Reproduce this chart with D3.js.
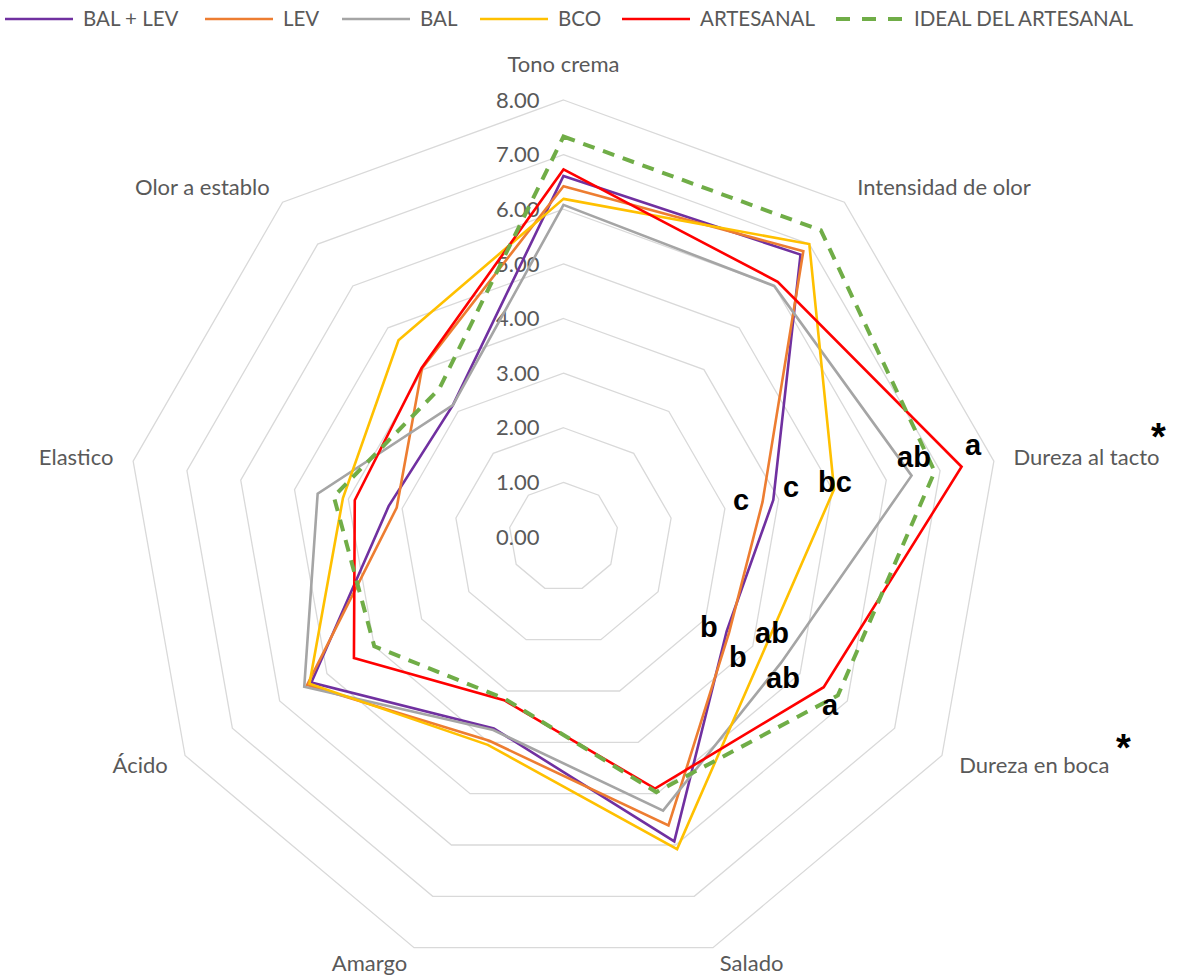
<!DOCTYPE html>
<html>
<head>
<meta charset="utf-8">
<script src="https://cdn.jsdelivr.net/npm/d3@7"></script>
<style>
  body { margin: 0; background: #fff; }
  text { font-family: Lato, "Open Sans", sans-serif; fill: #595959; }
</style>
</head>
<body>
<script>

// categories, clockwise from the top
var categories = ["Tono crema", "Intensidad de olor", "Dureza al tacto", "Dureza en boca",
                  "Salado", "Amargo", "Ácido", "Elastico", "Olor a establo"];

// series values
var balLev    = [6.61, 6.75, 3.90, 3.45, 5.93, 3.73, 5.33, 3.25, 3.15];
var lev       = [6.42, 6.83, 3.70, 3.50, 5.62, 3.97, 5.42, 3.10, 4.03];
var bal       = [6.08, 6.00, 6.47, 4.60, 5.33, 3.76, 5.48, 4.57, 3.15];
var bco       = [6.19, 7.00, 5.03, 4.22, 6.08, 4.05, 5.37, 4.10, 4.70];
var artesanal = [6.73, 6.10, 7.40, 5.50, 4.90, 3.18, 4.43, 3.88, 4.04];
var ideal     = [7.33, 7.33, 6.90, 5.80, 4.97, 3.15, 4.00, 4.27, 3.54];

var seriesNames = ["BAL + LEV", "LEV", "BAL", "BCO", "ARTESANAL", "IDEAL DEL ARTESANAL"];
var seriesValues = [balLev, lev, bal, bco, artesanal, ideal];

// tick labels of the radial axis
var ticks = [0, 1, 2, 3, 4, 5, 6, 7, 8];

// significance letters
var letterTacto = ["c", "c", "bc", "ab", "a"];
var letterBoca = ["b", "b", "ab", "ab", "a"];

// ---- layout ----
var width = 1178, height = 977;
var cx = 563.5, cy = 537, radius = 437;
var colors = ["#7030A0", "#ED7D31", "#A5A5A5", "#FFC000", "#FF0000", "#70AD47"];

var svg = d3.select("body").append("svg")
    .attr("width", width)
    .attr("height", height);

var g = svg.append("g")
    .attr("transform", "translate(" + cx + "," + cy + ")");

// scale for the values
var rScale = d3.scaleLinear()
    .domain([0, 8])
    .range([0, radius]);

var angle = function(i) { return i * 2 * Math.PI / categories.length; };

var radial = d3.lineRadial()
    .angle(function(d, i) { return angle(i); })
    .radius(function(d) { return rScale(d); })
    .curve(d3.curveLinearClosed);

// grid rings
g.selectAll(".ring")
    .data(ticks.filter(function(t) { return t > 0; }))
    .enter().append("path")
    .attr("class", "ring")
    .attr("d", function(t) { return radial(categories.map(function() { return t; })); })
    .attr("fill", "none")
    .attr("stroke", "#D9D9D9")
    .attr("stroke-width", 1.3);

// tick labels
g.selectAll(".tick")
    .data(ticks)
    .enter().append("text")
    .attr("class", "tick")
    .attr("x", -24)
    .attr("y", function(t) { return -rScale(t); })
    .attr("dy", "0.35em")
    .style("text-anchor", "end")
    .style("font-size", "22px")
    .text(function(t) { return t.toFixed(2); });

// category labels
var labelR = radius + 20;
g.selectAll(".cat")
    .data(categories)
    .enter().append("text")
    .attr("class", "cat")
    .attr("x", function(d, i) { return labelR * Math.sin(angle(i)); })
    .attr("y", function(d, i) {
        if (i === 0) return -labelR - 8;
        var y = -labelR * Math.cos(angle(i));
        // keep the bottom labels inside the picture
        return Math.min(y, height - cy - 14);
    })
    .attr("dy", function(d, i) { return i === 0 ? "0" : "0.35em"; })
    .style("text-anchor", function(d, i) {
        var s = Math.sin(angle(i));
        return Math.abs(s) < 0.01 ? "middle" : (s > 0 ? "start" : "end");
    })
    .style("font-size", "22px")
    .text(function(d) { return d; });

// series lines
g.selectAll(".series")
    .data(seriesValues)
    .enter().append("path")
    .attr("class", "series")
    .attr("d", function(d) { return radial(d); })
    .attr("fill", "none")
    .attr("stroke", function(d, i) { return colors[i]; })
    .attr("stroke-width", function(d, i) { return i === 5 ? 4 : 2.6; })
    .attr("stroke-dasharray", function(d, i) { return i === 5 ? "12,9" : null; })
    .attr("stroke-linejoin", "miter");

// significance letters (pixel positions next to the series points)
var tactoPos = [[733, 510], [783, 497], [818, 492], [897, 467], [965, 455]];
var bocaPos = [[700, 637], [729, 667], [755, 643], [766, 688], [822, 715]];

function drawLetters(letters, pos) {
    svg.selectAll(null)
        .data(letters)
        .enter().append("text")
        .attr("x", function(d, i) { return pos[i][0]; })
        .attr("y", function(d, i) { return pos[i][1]; })
        .style("font-family", "'Liberation Sans', Arial, sans-serif")
        .style("font-weight", "bold")
        .style("font-size", "29px")
        .style("fill", "#000")
        .text(function(d) { return d; });
}
drawLetters(letterTacto, tactoPos);
drawLetters(letterBoca, bocaPos);

// asterisks
svg.selectAll(".star")
    .data([[1151, 450], [1116, 761]])
    .enter().append("text")
    .attr("class", "star")
    .attr("x", function(d) { return d[0]; })
    .attr("y", function(d) { return d[1]; })
    .style("font-family", "'Liberation Sans', Arial, sans-serif")
    .style("font-weight", "bold")
    .style("font-size", "38px")
    .style("fill", "#000")
    .text("*");

// legend
var legendX = [5, 205, 342, 480, 622, 836];
var legend = svg.selectAll(".legend")
    .data(seriesNames)
    .enter().append("g")
    .attr("class", "legend")
    .attr("transform", function(d, i) { return "translate(" + legendX[i] + ",19)"; });

legend.append("line")
    .attr("x1", 0)
    .attr("x2", 68)
    .attr("stroke", function(d, i) { return colors[i]; })
    .attr("stroke-width", function(d, i) { return i === 5 ? 4 : 2.6; })
    .attr("stroke-dasharray", function(d, i) { return i === 5 ? "14,12" : null; });

legend.append("text")
    .attr("x", 78)
    .attr("dy", "0.35em")
    .style("font-size", "20.5px")
    .text(function(d) { return d; });

</script>
</body>
</html>
